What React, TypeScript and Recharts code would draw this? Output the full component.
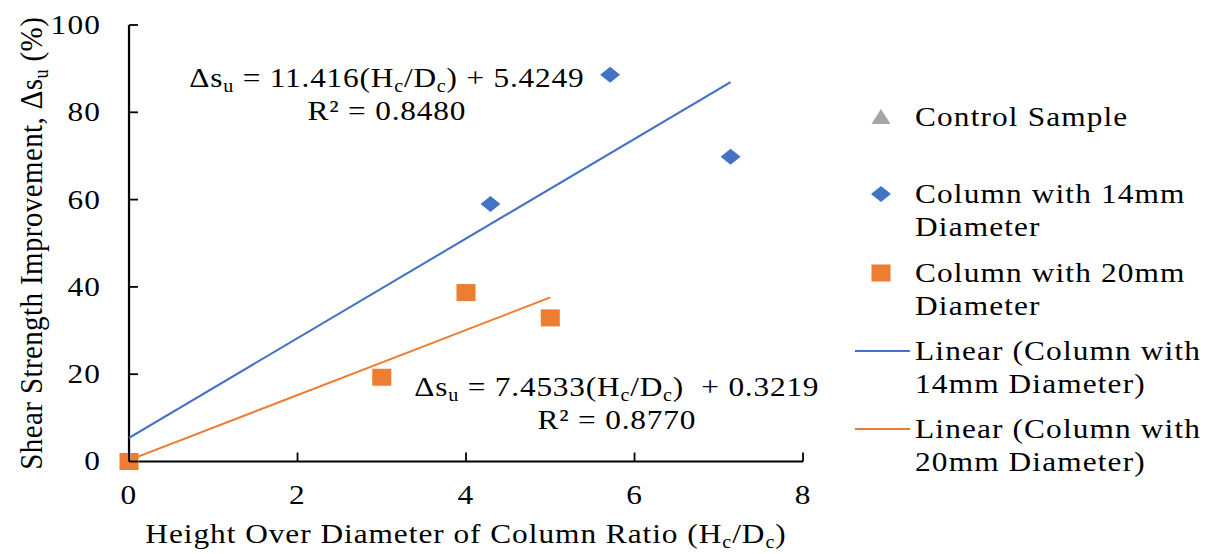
import { ComposedChart, Scatter, XAxis, YAxis, Legend, ReferenceDot } from "recharts";

// values
const controlX = [0];
const controlY = [0];
const col14X = [4.29, 5.71, 7.14];
const col14Y = [59.0, 88.6, 69.8];
const col20X = [0, 3, 4, 5];
const col20Y = [0, 19.3, 38.7, 32.9];
const trend14X = [0, 7.14];
const trend14Y = [5.42, 86.93];
const trend20X = [0, 5];
const trend20Y = [0.32, 37.59];
const xTicks = [0, 2, 4, 6, 8];
const yTicks = [0, 20, 40, 60, 80, 100];

const pts = (xs: number[], ys: number[]) => xs.map((x, i) => ({ x, y: ys[i] }));

const BLUE = "#4472C4";
const ORANGE = "#ED7D31";
const GREY = "#A5A5A5";
const FONT = "'Liberation Serif', 'Times New Roman', serif";
const FS = 28;
const SUB = 18;
const SUB_DY = 5;

// the reference is stretched horizontally, so the chart is drawn narrow and scaled
const S = 1.12;
const W = 1207 / S;
const H = 554;
const PLOT_LEFT = 115.2;
const PLOT_RIGHT = 717;
const PLOT_TOP = 25;
const PLOT_BOTTOM = 461.5;

const Diamond = ({ cx, cy }: any) => (
  <path d={`M${cx - 8.9},${cy} L${cx},${cy - 8} L${cx + 8.9},${cy} L${cx},${cy + 8} Z`} fill={BLUE} />
);
const Square = ({ cx, cy }: any) => (
  <rect x={cx - 8.5} y={cy - 8.5} width={17} height={17} fill={ORANGE} />
);
const Triangle = ({ cx, cy }: any) => (
  <path d={`M${cx - 8.5},${cy + 7} L${cx},${cy - 8} L${cx + 8.5},${cy + 7} Z`} fill={GREY} />
);
const NoDot = () => <g />;

// text pieces, second item marks a subscript
type Part = [string, boolean?];
const rich = (parts: Part[]) => {
  let shift = 0;
  return parts.map(([t, sub], i) => {
    const target = sub ? SUB_DY : 0;
    const dy = target - shift;
    shift = target;
    return (
      <tspan key={i} dy={dy} fontSize={sub ? SUB : undefined}>
        {t}
      </tspan>
    );
  });
};

const XTick = ({ x, y, payload }: any) => (
  <g>
    <line x1={x} x2={x} y1={y} y2={y - 9} stroke="#000" strokeWidth={1.6} />
    <text x={x} y={y + 43} textAnchor="middle" fontSize={FS} fontFamily={FONT} fill="#000" letterSpacing={1}>
      {payload.value}
    </text>
  </g>
);

const YTick = ({ x, y, payload }: any) => (
  <g>
    <line x1={x} x2={x + 8} y1={y} y2={y} stroke="#000" strokeWidth={1.8} />
    <text x={x - 25} y={y + 9} textAnchor="end" fontSize={FS} fontFamily={FONT} fill="#000" letterSpacing={1}>
      {payload.value}
    </text>
  </g>
);

const xTitle: Part[] = [
  ["Height Over Diameter of Column Ratio (H"],
  ["c", true],
  ["/D"],
  ["c", true],
  [")"],
];
const yTitle: Part[] = [["Shear Strength Improvement, Δs"], ["u", true], [" (%)"]];

const XLabel = ({ viewBox }: any) => (
  <text
    x={viewBox.x + viewBox.width / 2}
    y={viewBox.y + 82}
    textAnchor="middle"
    fontSize={FS}
    fontFamily={FONT}
    fill="#000"
    letterSpacing={0.85}
  >
    {rich(xTitle)}
  </text>
);

const YLabel = ({ viewBox }: any) => (
  <text
    transform={`translate(37.5, ${viewBox.y + viewBox.height / 2}) rotate(-90)`}
    textAnchor="middle"
    fontSize={29}
    fontFamily={FONT}
    fill="#000"
    letterSpacing={0.4}
  >
    {rich(yTitle)}
  </text>
);

const equation = (coef: string, icpt: string, r2: string) => ({ cx, cy }: any) => (
  <g fontSize={FS} fontFamily={FONT} fill="#000">
    <text x={cx} y={cy} textAnchor="middle" letterSpacing={0.7} style={{ whiteSpace: "pre" }}>
      {rich([["Δs"], ["u", true], [` = ${coef}(H`], ["c", true], ["/D"], ["c", true], [`)${icpt}`]])}
    </text>
    <text x={cx} y={cy + 33} textAnchor="middle" letterSpacing={0.7}>
      R² = {r2}
    </text>
  </g>
);

const legendItems = [
  { kind: "triangle", lines: ["Control Sample"] },
  { kind: "diamond", lines: ["Column with 14mm", "Diameter"] },
  { kind: "square", lines: ["Column with 20mm", "Diameter"] },
  { kind: "line14", lines: ["Linear (Column with", "14mm Diameter)"] },
  { kind: "line20", lines: ["Linear (Column with", "20mm Diameter)"] },
];
const legendRows = [27, 104, 183, 261, 339];

const LegendBox = () => (
  <svg width={330} height={400} style={{ overflow: "visible" }}>
    {legendItems.map((item, i) => {
      const cy = legendRows[i];
      const mx = 46.6;
      let marker = null;
      if (item.kind === "triangle") marker = <Triangle cx={mx} cy={cy} />;
      if (item.kind === "diamond") marker = <Diamond cx={mx} cy={cy} />;
      if (item.kind === "square") marker = <Square cx={mx} cy={cy} />;
      if (item.kind === "line14")
        marker = <line x1={23.4} x2={72.5} y1={cy} y2={cy} stroke={BLUE} strokeWidth={2} />;
      if (item.kind === "line20")
        marker = <line x1={23.4} x2={72.5} y1={cy} y2={cy} stroke={ORANGE} strokeWidth={2} />;
      return (
        <g key={i}>
          {marker}
          {item.lines.map((t, j) => (
            <text
              key={j}
              x={77}
              y={cy + 9 + j * 33}
              fontSize={FS}
              fontFamily={FONT}
              fill="#000"
              letterSpacing={1}
            >
              {t}
            </text>
          ))}
        </g>
      );
    })}
  </svg>
);

export default function App() {
  return (
    <div
      style={{
        position: "absolute",
        left: 0,
        top: 0,
        width: 1207,
        height: H,
        overflow: "hidden",
        background: "#fff",
      }}
    >
      <div style={{ width: W, height: H, transform: `scaleX(${S})`, transformOrigin: "0 0" }}>
        <ComposedChart
          width={W}
          height={H}
          margin={{ top: PLOT_TOP, right: W - PLOT_RIGHT, bottom: 0, left: 0 }}
        >
          <XAxis
            type="number"
            dataKey="x"
            domain={[0, 8]}
            ticks={xTicks}
            interval={0}
            height={H - PLOT_BOTTOM}
            tickSize={0}
            tickMargin={0}
            tickLine={false}
            tick={<XTick />}
            axisLine={{ stroke: "#000", strokeWidth: 2 }}
            label={<XLabel />}
          />
          <YAxis
            type="number"
            dataKey="y"
            domain={[0, 100]}
            ticks={yTicks}
            interval={0}
            width={PLOT_LEFT}
            tickSize={0}
            tickMargin={0}
            tickLine={false}
            tick={<YTick />}
            axisLine={{ stroke: "#000", strokeWidth: 2 }}
            label={<YLabel />}
          />
          <Legend
            layout="vertical"
            align="center"
            verticalAlign="middle"
            wrapperStyle={{ left: 740, top: 90, width: 330, height: 400 }}
            content={() => <LegendBox />}
          />
          <Scatter
            name="Linear (Column with 14mm Diameter)"
            data={pts(trend14X, trend14Y)}
            line={{ stroke: BLUE, strokeWidth: 2 }}
            shape={<NoDot />}
            isAnimationActive={false}
          />
          <Scatter
            name="Linear (Column with 20mm Diameter)"
            data={pts(trend20X, trend20Y)}
            line={{ stroke: ORANGE, strokeWidth: 2 }}
            shape={<NoDot />}
            isAnimationActive={false}
          />
          <Scatter
            name="Control Sample"
            data={pts(controlX, controlY)}
            shape={<Triangle />}
            isAnimationActive={false}
          />
          <Scatter
            name="Column with 20mm Diameter"
            data={pts(col20X, col20Y)}
            shape={<Square />}
            isAnimationActive={false}
          />
          <Scatter
            name="Column with 14mm Diameter"
            data={pts(col14X, col14Y)}
            shape={<Diamond />}
            isAnimationActive={false}
          />
          <ReferenceDot
            x={3.06}
            y={85.8}
            r={0}
            shape={equation("11.416", " + 5.4249", "0.8480")}
          />
          <ReferenceDot
            x={5.79}
            y={15.0}
            r={0}
            shape={equation("7.4533", "  + 0.3219", "0.8770")}
          />
        </ComposedChart>
      </div>
    </div>
  );
}
